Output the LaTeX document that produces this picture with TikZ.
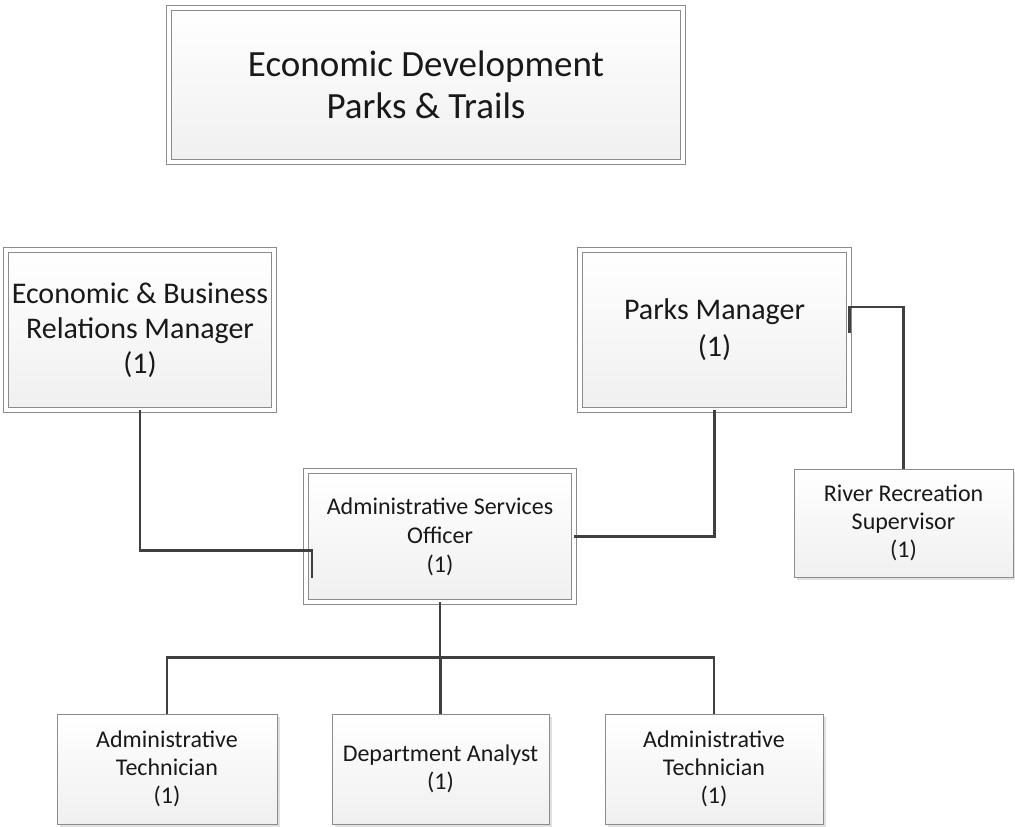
\documentclass[tikz,border=0pt]{standalone}
\usepackage{fontspec}
\setmainfont{Carlito}
\usetikzlibrary{shadows,calc}

\begin{document}
\begin{tikzpicture}[x=1pt,y=-1pt,
  post/.style={draw=black!45, line width=0.8pt, top color=white, bottom color=black!6,
    drop shadow={shadow xshift=3pt, shadow yshift=-3pt, fill=black, opacity=0.12},
    align=center, inner sep=0pt, text=black!90},
  head/.style={post, double=white, double distance=3.6pt},
  link/.style={draw=black!75, line width=2.2pt}]
  \useasboundingbox (0,0) rectangle (1015,827);

  \node[head, minimum width=514, minimum height=154, font=\fontsize{37}{42}\selectfont] (dept) at (426,85) {Economic Development\\Parks \& Trails};

  \node[head, minimum width=268, minimum height=160, font=\fontsize{30}{35}\selectfont] (econ) at (140,330) {Economic \& Business\\Relations Manager\\(1)};
  \node[head, minimum width=269, minimum height=160, font=\fontsize{30}{37}\selectfont] (parks) at (714.5,330) {Parks Manager\\(1)};
  \node[head, minimum width=268, minimum height=131, font=\fontsize{24}{29}\selectfont] (aso) at (440,536.5) {Administrative Services\\Officer\\(1)};
  \node[post, minimum width=219, minimum height=108, font=\fontsize{24}{28}\selectfont] (river) at (903.5,523) {River Recreation\\Supervisor\\(1)};

  \node[post, minimum width=220, minimum height=110, font=\fontsize{24}{28}\selectfont] (tech1) at (167,769) {Administrative\\Technician\\(1)};
  \node[post, minimum width=217, minimum height=110, font=\fontsize{24}{28}\selectfont] (analyst) at (440.5,769) {Department Analyst\\(1)};
  \node[post, minimum width=218, minimum height=110, font=\fontsize{24}{28}\selectfont] (tech2) at (714,769) {Administrative\\Technician\\(1)};

  % reporting lines
  \draw[link] (econ.south) |- ($(aso.west)+(6,14)$) -- ++(0,27);
  \draw[link] (parks.south) |- (aso.east);
  \draw[link] ($(parks.east)+(0,3)$) -- ++(0,-26) -| (river.north);
  \draw[link] (aso.south) -- ++(0,55) coordinate (hub);
  \foreach \t in {tech1,analyst,tech2}{ \draw[link] (hub) -| (\t.north); }
\end{tikzpicture}
\end{document}
